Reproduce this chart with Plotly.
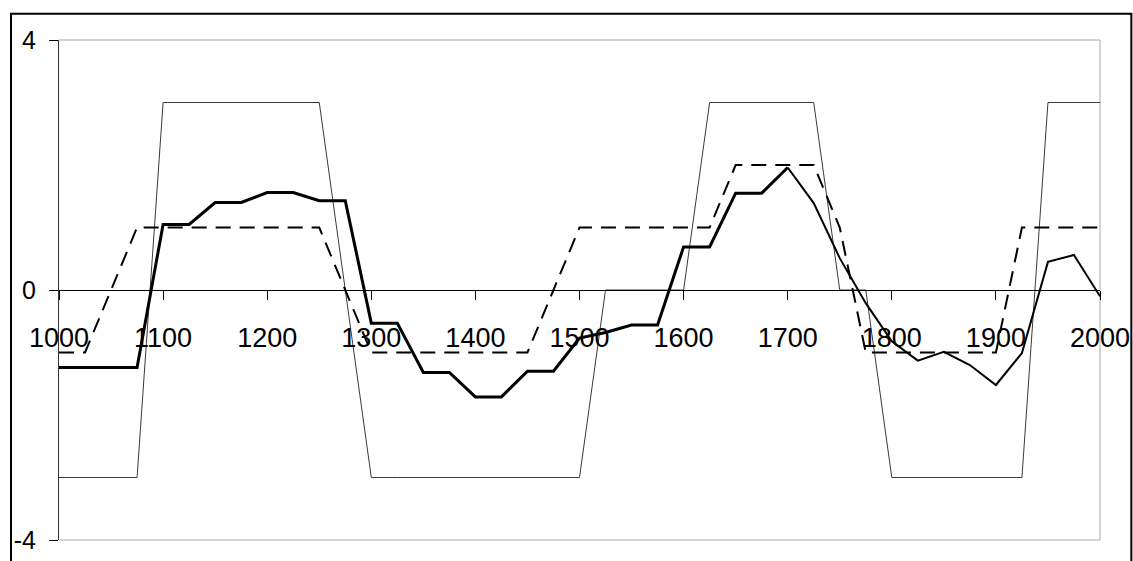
import plotly.graph_objects as go

years = [1000 + 25 * i for i in range(41)]

# thin solid series (square wave)
square = [-3, -3, -3, -3, 3, 3, 3, 3, 3, 3, 3, 0, -3, -3, -3, -3, -3, -3, -3, -3,
          -3, 0, 0, 0, 0, 3, 3, 3, 3, 3, 0, 0, -3, -3, -3, -3, -3, -3, 3, 3, 3]

# dashed series
dashed = [-1, -1, 0, 1, 1, 1, 1, 1, 1, 1, 1, 0, -1, -1, -1, -1, -1, -1, -1, 0,
          1, 1, 1, 1, 1, 1, 2, 2, 2, 2, 1, -1, -1, -1, -1, -1, -1, 1, 1, 1, 1]

# thick smoothed series
smooth = [-1.24, -1.24, -1.24, -1.24, 1.05, 1.05, 1.40, 1.40, 1.56, 1.56, 1.43, 1.43,
          -0.53, -0.53, -1.32, -1.32, -1.71, -1.71, -1.30, -1.30, -0.77, -0.68, -0.56,
          -0.56, 0.69, 0.69, 1.55, 1.55, 1.96, 1.39, 0.51, -0.21, -0.82, -1.13, -0.99,
          -1.20, -1.52, -1.01, 0.45, 0.56, -0.10]

x_ticks = list(range(1000, 2001, 100))
y_ticks = [-4, 0, 4]

split = years.index(1700)

fig = go.Figure()
fig.add_trace(go.Scatter(x=years, y=square, mode="lines",
                         line=dict(color="#3a3a3a", width=1), showlegend=False))
fig.add_trace(go.Scatter(x=years, y=dashed, mode="lines",
                         line=dict(color="black", width=2, dash="15px,9px"), showlegend=False))
fig.add_trace(go.Scatter(x=years[:split + 1], y=smooth[:split + 1], mode="lines",
                         line=dict(color="black", width=3), showlegend=False))
fig.add_trace(go.Scatter(x=years[split:], y=smooth[split:], mode="lines",
                         line=dict(color="black", width=2), showlegend=False))

# plot area frame (top, right, bottom) in light gray
for (x0, y0, x1, y1) in [(0, 1, 1, 1), (1, 0, 1, 1), (0, 0, 1, 0)]:
    fig.add_shape(type="line", xref="paper", yref="paper", x0=x0, y0=y0, x1=x1, y1=y1,
                  line=dict(color="#a8a8a8", width=1), layer="below")
# outer chart border
fig.add_shape(type="rect", xref="paper", yref="paper",
              x0=-0.0461, x1=1.0301, y0=-0.2, y1=1.0526,
              line=dict(color="black", width=2), fillcolor="rgba(0,0,0,0)")

fig.update_layout(
    width=1133, height=561,
    margin=dict(l=59, r=33, t=40, b=21, autoexpand=False),
    paper_bgcolor="white", plot_bgcolor="white",
    font=dict(family="Liberation Sans, Arial, sans-serif", color="black"),
    xaxis=dict(range=[1000, 2000], tickvals=x_ticks, ticktext=[str(v) for v in x_ticks],
               anchor="free", position=0.5, showline=True, linecolor="black", linewidth=1,
               ticks="outside", ticklen=9, tickcolor="black", tickwidth=1,
               showgrid=False, zeroline=False, tickfont=dict(size=27),
               ticklabelstandoff=15, automargin=False),
    yaxis=dict(range=[-4, 4], tickvals=y_ticks, ticktext=[str(v) for v in y_ticks],
               showline=True, linecolor="#333333", linewidth=1,
               ticks="outside", ticklen=9, tickcolor="black", tickwidth=1,
               showgrid=False, zeroline=False, tickfont=dict(size=25),
               ticklabelstandoff=8, automargin=False),
)

fig.write_html("out.html", config={"displayModeBar": False},
               post_script="document.body.style.margin='0';document.body.style.overflow='hidden';")
